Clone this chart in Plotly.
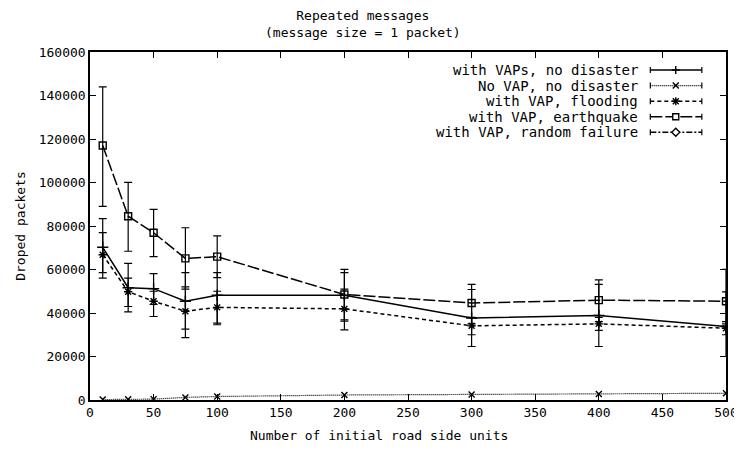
import plotly.graph_objects as go

# ---- data ----
rsu_counts = [10, 30, 50, 75, 100, 200, 300, 400, 500]

vaps_no_disaster = [70200, 51600, 51200, 45400, 48200, 48200, 37700, 38900, 33800]
vaps_no_disaster_hi = [83400, 62800, 58100, 58600, 58600, 58600, 50800, 53200, 49700]
vaps_no_disaster_lo = [58600, 40500, 43900, 32600, 35300, 36900, 24600, 24600, 20000]

no_vap_no_disaster = [200, 300, 400, 1200, 1600, 2300, 2500, 2800, 3100]

vap_flooding = [66800, 49800, 45400, 40800, 42600, 41900, 34100, 35000, 33000]
vap_flooding_hi = [77000, 56000, 50000, 52000, 50000, 51000, 38000, 38000, 36000]
vap_flooding_lo = [56000, 43000, 38400, 28700, 34600, 32200, 30000, 32000, 30000]

vap_earthquake = [117000, 84500, 76900, 65100, 65900, 48500, 44600, 45900, 45400]
vap_earthquake_hi = [144000, 100100, 87600, 79200, 75500, 60100, 53200, 55200, 60100]
vap_earthquake_lo = [89000, 68400, 65900, 51000, 56300, 36300, 35000, 36000, 35000]

series_names = [
    "with VAPs, no disaster",
    "No VAP, no disaster",
    "with VAP, flooding",
    "with VAP, earthquake",
    "with VAP, random failure",
]

x_ticks = [0, 50, 100, 150, 200, 250, 300, 350, 400, 450, 500]
y_ticks = [0, 20000, 40000, 60000, 80000, 100000, 120000, 140000, 160000]

title_text = "Repeated messages<br>(message size = 1 packet)"
x_title = "Number of initial road side units"
y_title = "Droped packets"

FONT = "DejaVu Sans Mono"
BLACK = "black"

# style per series (gnuplot-like): dash pattern and point type
styles = [
    dict(dash="solid", width=1.5, marker="plus"),
    dict(dash="1px,1px", width=1.2, marker="x"),
    dict(dash="4px,3px", width=1.5, marker="star"),
    dict(dash="12px,3px", width=1.5, marker="square"),
    dict(dash="6px,2px,2px,2px", width=1.5, marker="diamond"),
]
plotly_symbols = {"plus": "cross-thin", "x": "x-thin", "star": "asterisk",
                  "square": "square-open", "diamond": "diamond-open"}
marker_sizes = {"plus": 8, "x": 6, "star": 7, "square": 7, "diamond": 7}
marker_paths = {
    "plus": "M-4,0 L4,0 M0,-4 L0,4",
    "x": "M-3,-3 L3,3 M-3,3 L3,-3",
    "star": "M-4,0 L4,0 M0,-4 L0,4 M-3,-3 L3,3 M-3,3 L3,-3",
    "square": "M-3,-3 L3,-3 L3,3 L-3,3 Z",
    "diamond": "M0,-4 L4,0 L0,4 L-4,0 Z",
}


def err(vals, hi, lo):
    return dict(
        type="data",
        symmetric=False,
        array=[h - v for h, v in zip(hi, vals)],
        arrayminus=[v - l for v, l in zip(vals, lo)],
        color=BLACK,
        thickness=1.2,
        width=4,
    )


plotted = [
    (vaps_no_disaster, err(vaps_no_disaster, vaps_no_disaster_hi, vaps_no_disaster_lo)),
    (no_vap_no_disaster, None),
    (vap_flooding, err(vap_flooding, vap_flooding_hi, vap_flooding_lo)),
    (vap_earthquake, err(vap_earthquake, vap_earthquake_hi, vap_earthquake_lo)),
]

fig = go.Figure()
for i, (vals, ebar) in enumerate(plotted):
    st = styles[i]
    kw = dict(
        x=rsu_counts, y=vals, name=series_names[i], mode="lines+markers",
        line=dict(color=BLACK, width=st["width"], dash=st["dash"]),
        marker=dict(symbol=plotly_symbols[st["marker"]], size=marker_sizes[st["marker"]],
                    color=BLACK, line=dict(color=BLACK, width=1.4)),
        showlegend=False,
    )
    if ebar is not None:
        kw["error_y"] = ebar
    fig.add_trace(go.Scatter(**kw))

# ---- gnuplot-style key: right-aligned text, sample line on the right ----
plot_h_px = 347.0
key_text_right = 0.864
key_line_x0 = 0.881
key_line_x1 = 0.962
key_mark_x = 0.921
key_first_row = 1 - 18 / plot_h_px
key_row_step = 15.5 / plot_h_px

annotations = []
shapes = []
for i, name in enumerate(series_names):
    st = styles[i]
    yrow = key_first_row - i * key_row_step
    annotations.append(dict(
        text=name, xref="paper", yref="paper", x=key_text_right, y=yrow,
        xanchor="right", yanchor="middle", showarrow=False,
        font=dict(family=FONT, size=14, color=BLACK),
    ))
    shapes.append(dict(type="line", xref="paper", yref="paper",
                       x0=key_line_x0, x1=key_line_x1, y0=yrow, y1=yrow,
                       line=dict(color=BLACK, width=st["width"], dash=st["dash"])))
    for xc in (key_line_x0, key_line_x1):
        shapes.append(dict(type="line", xref="paper", yref="paper",
                           xsizemode="scaled", ysizemode="pixel", yanchor=yrow,
                           x0=xc, x1=xc, y0=-3, y1=3,
                           line=dict(color=BLACK, width=1.2)))
    shapes.append(dict(type="path", xref="paper", yref="paper",
                       xsizemode="pixel", ysizemode="pixel",
                       xanchor=key_mark_x, yanchor=yrow,
                       path=marker_paths[st["marker"]],
                       fillcolor="white" if st["marker"] in ("square", "diamond") else None,
                       line=dict(color=BLACK, width=1.4)))

annotations.append(dict(text=title_text, xref="paper", yref="paper", x=0.43, y=1,
                        xanchor="center", yanchor="bottom", yshift=10, showarrow=False,
                        font=dict(family=FONT, size=13, color=BLACK)))
annotations.append(dict(text=x_title, xref="paper", yref="paper", x=0.455, y=0,
                        xanchor="center", yanchor="top", yshift=-26, showarrow=False,
                        font=dict(family=FONT, size=13, color=BLACK)))

axis_common = dict(
    showline=True, linecolor=BLACK, linewidth=1.5, mirror="allticks",
    ticks="inside", ticklen=6, tickcolor=BLACK, tickwidth=1,
    showgrid=False, zeroline=False,
    tickfont=dict(family=FONT, size=13, color=BLACK),
)

fig.update_layout(
    width=742, height=453,
    margin=dict(l=78, r=20, t=44, b=61),
    paper_bgcolor="white", plot_bgcolor="white",
    font=dict(family=FONT, size=13, color=BLACK),
    xaxis=dict(range=[0, 500], tickvals=x_ticks, tickformat="d", **axis_common),
    yaxis=dict(
        range=[0, 160000], tickvals=y_ticks, tickformat="d",
        title=dict(text=y_title, standoff=10,
                   font=dict(family=FONT, size=13, color=BLACK)),
        **axis_common,
    ),
    showlegend=False,
    annotations=annotations,
    shapes=shapes,
)

fig.write_html("out.html")
